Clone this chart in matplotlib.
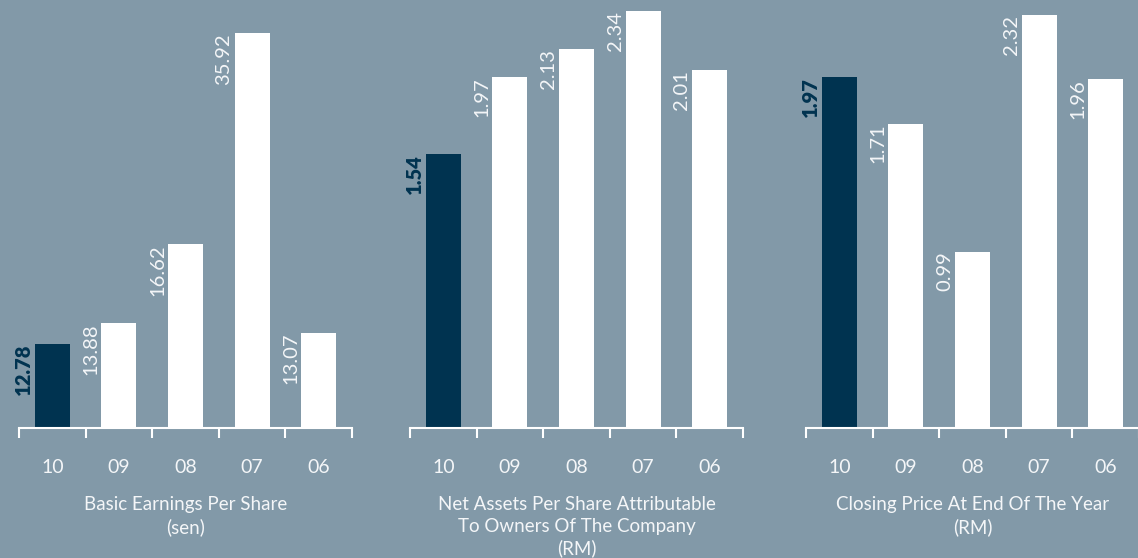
import matplotlib
matplotlib.use("Agg")
import matplotlib.pyplot as plt
from matplotlib import font_manager

# ---------------- data ----------------
years = ["10", "09", "08", "07", "06"]

eps_labels = [12.78, 13.88, 16.62, 35.92, 13.07]          # Basic EPS (sen), as printed
# bar heights as drawn in the source chart (sen scale; source bars are not proportional)
eps_heights = [7.64, 9.55, 16.73, 35.92, 8.64]

nav_values = [1.54, 1.97, 2.13, 2.34, 2.01]               # Net assets per share (RM)
price_values = [1.97, 1.71, 0.99, 2.32, 1.96]             # Closing price (RM)

titles = [
    "Basic Earnings Per Share\n(sen)",
    "Net Assets Per Share Attributable\nTo Owners Of The Company\n(RM)",
    "Closing Price At End Of The Year\n(RM)",
]

# ---------------- style ----------------
BG = "#8299A8"
NAVY = "#003350"
WHITE = "#FFFFFF"
TXT = "#F4F6F8"

names = {f.name for f in font_manager.fontManager.ttflist}
FAMILY = "Lato" if "Lato" in names else "DejaVu Sans"
plt.rcParams["font.family"] = [FAMILY, "DejaVu Sans"]

W, H = 1138, 558
fig = plt.figure(figsize=(W / 100, H / 100), dpi=100, facecolor=BG)

panels = [
    (19, 333, eps_heights, eps_labels, 38.92, "{:.2f}"),
    (410, 333, nav_values, nav_values, 2.404, "{:.2f}"),
    (806, 333, price_values, price_values, 2.404, "{:.2f}"),
]

bottom_px = 428
for i, (left, width, heights, labels, ytop, fmt) in enumerate(panels):
    ax = fig.add_axes([left / W, (H - bottom_px) / H, width / W, bottom_px / H])
    ax.set_facecolor(BG)
    ax.patch.set_alpha(0)
    x = list(range(len(years)))
    colors = [NAVY] + [WHITE] * (len(years) - 1)
    bw = 0.525
    ax.bar(x, heights, width=bw, color=colors, zorder=2)
    ax.set_xlim(-0.5, len(years) - 0.5)
    ax.set_ylim(0, ytop)

    for j, (h, lab) in enumerate(zip(heights, labels)):
        first = j == 0
        ax.annotate(fmt.format(lab), xy=(j - bw / 2, h), xytext=(-1.5, 0),
                    textcoords="offset points", rotation=90,
                    ha="right", va="top",
                    fontsize=14.5,
                    fontweight="heavy" if first else "normal",
                    color=NAVY if first else TXT,
                    annotation_clip=False)

    for s in ["top", "right", "left"]:
        ax.spines[s].set_visible(False)
    ax.spines["bottom"].set_color(WHITE)
    ax.spines["bottom"].set_linewidth(1.5)
    ax.set_yticks([])
    ax.set_xticks([k - 0.5 for k in range(len(years) + 1)])
    ax.set_xticklabels([])
    ax.set_xticks(x, minor=True)
    ax.set_xticklabels(years, minor=True)
    ax.tick_params(axis="x", which="major", length=7.5, width=1.5, color=WHITE,
                   direction="out")
    ax.tick_params(axis="x", which="minor", length=0, pad=22, labelsize=14,
                   labelcolor=TXT)
    ax.set_xlabel(titles[i], fontsize=13.5, color=TXT, fontweight="normal",
                  labelpad=15, linespacing=1.3, va="top")

fig.savefig("out.png", dpi=100, facecolor=BG)
